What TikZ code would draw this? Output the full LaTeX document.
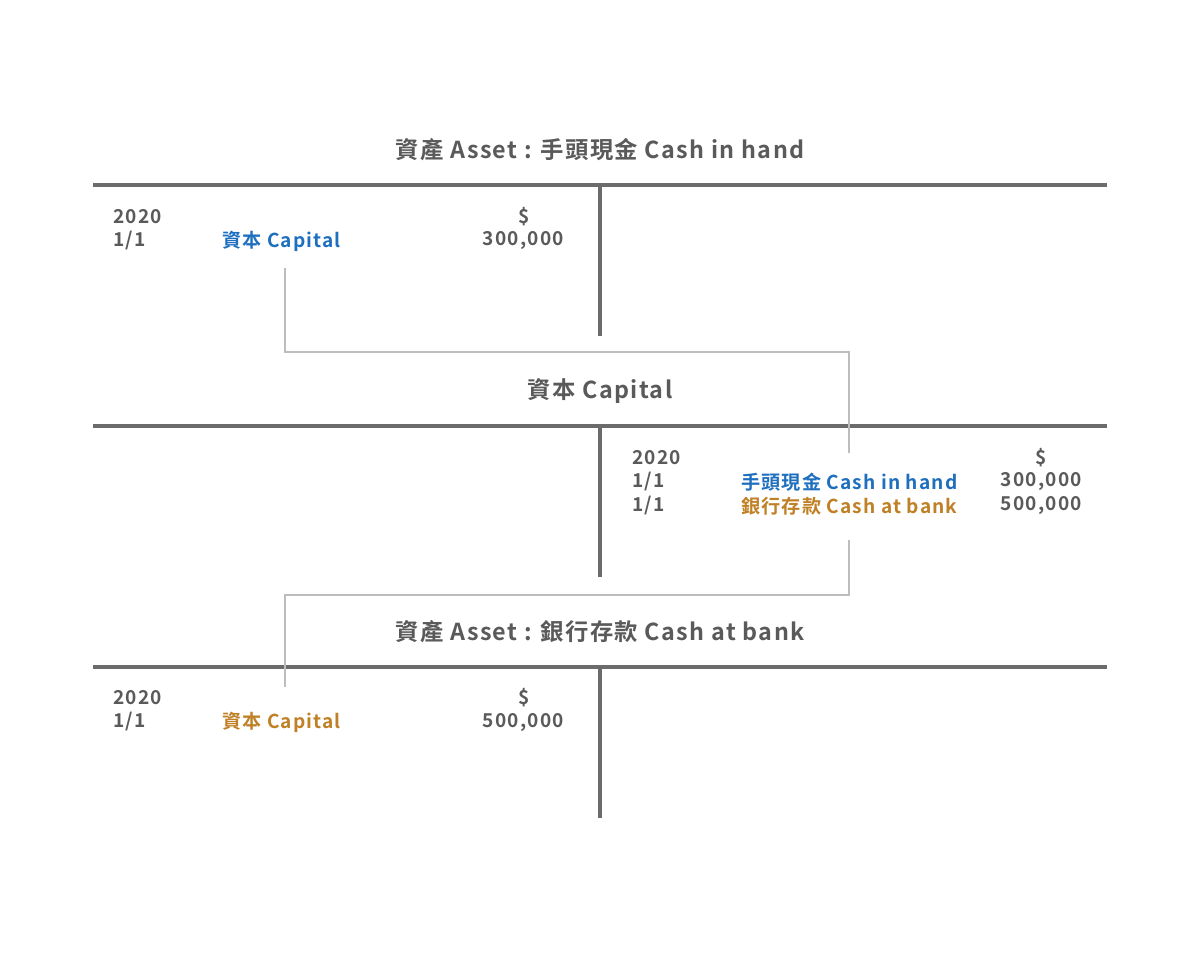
\documentclass[tikz,border=0pt]{standalone}
\usepackage{fontspec}
\setmainfont{Noto Sans CJK TC}[BoldFont={* Bold},LetterSpace=6]
\definecolor{txt}{HTML}{5A5A5A}
\definecolor{blu}{HTML}{1F6FBF}
\definecolor{org}{HTML}{BF8026}
\definecolor{lnk}{HTML}{BDBDBD}
\begin{document}
\begin{tikzpicture}[x=0.025cm,y=-0.025cm,
  title/.style={font=\bfseries\fontsize{16.6}{18}\selectfont,text=txt,inner sep=0},
  t/.style={font=\bfseries\fontsize{13.6}{15}\selectfont,text=txt,inner sep=0},
  ax/.style={line width=2.2pt,draw=txt!90},
  lk/.style={line width=1.8pt,draw=lnk}]
\useasboundingbox (0,0) rectangle (1200,963);
% account 1
\node[title] (t1) at (600,150) {資產 Asset : 手頭現金 Cash in hand};
\draw[ax] (93,185) -- (1107,185);
\draw[ax] (600,185) -- (600,336);
\node[t,anchor=west] (a1y) at (113,217) {2020};
\node[t,anchor=west] (a1d) at (113,241) {1/1};
\node[t,anchor=west,text=blu] (a1c) at (222,241) {資本 Capital};
\node[t] (a1s) at (524,217) {\$};
\node[t,anchor=east] (a1v) at (564,241) {300,000};
% account 2
\node[title] (t2) at (600,391) {資本 Capital};
\draw[ax] (93,426) -- (1107,426);
\draw[ax] (600,426) -- (600,577);
\node[t,anchor=west] (b1y) at (632,458) {2020};
\node[t,anchor=west] (b1d) at (632,482) {1/1};
\node[t,anchor=west] (b2d) at (632,506) {1/1};
\node[t] (b1s) at (1041,458) {\$};
\node[t,anchor=west,text=blu] (b1c) at (741,482) {手頭現金 Cash in hand};
\node[t,anchor=west,text=org] (b2c) at (741,506) {銀行存款 Cash at bank};
\node[t,anchor=east] (b1v) at (1082,482) {300,000};
\node[t,anchor=east] (b2v) at (1082,506) {500,000};
% account 3
\node[title] (t3) at (600,632) {資產 Asset : 銀行存款 Cash at bank};
\draw[ax] (93,667) -- (1107,667);
\draw[ax] (600,667) -- (600,818);
\node[t,anchor=west] (c1y) at (113,698) {2020};
\node[t,anchor=west] (c1d) at (113,722) {1/1};
\node[t,anchor=west,text=org] (c1c) at (222,722) {資本 Capital};
\node[t] (c1s) at (524,698) {\$};
\node[t,anchor=east] (c1v) at (564,722) {500,000};
% links
\coordinate (p1) at (285,268);
\coordinate (p2) at (849,453);
\coordinate (p3) at (849,540);
\coordinate (p4) at (285,687);
\draw[lk] (p1) -- (285,352) -- (849,352) -- (p2);
\draw[lk] (p3) -- (849,595) -- (285,595) -- (p4);
\end{tikzpicture}
\end{document}
